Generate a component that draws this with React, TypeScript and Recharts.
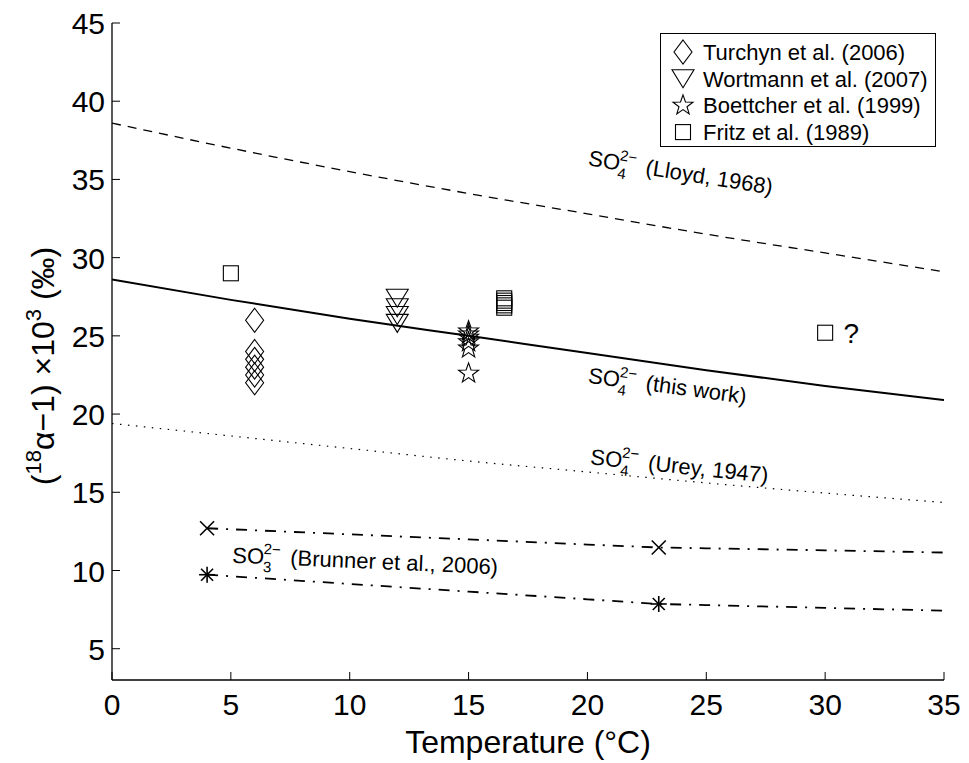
import {
  ComposedChart,
  Label,
  Legend,
  Line,
  ReferenceDot,
  Scatter,
  XAxis,
  YAxis,
} from 'recharts'

const FONT = '"Liberation Sans", Arial, Helvetica, sans-serif'

const X_TICKS = [0, 5, 10, 15, 20, 25, 30, 35]
const Y_TICKS = [5, 10, 15, 20, 25, 30, 35, 40, 45]

// fitted curves
const CURVE_T = [0, 5, 10, 15, 20, 25, 30, 35]
const LLOYD_1968 = [38.6, 37.0, 35.5, 34.1, 32.8, 31.5, 30.3, 29.1]
const THIS_WORK = [28.6, 27.3, 26.1, 25.0, 23.9, 22.8, 21.8, 20.9]
const UREY_1947 = [19.4, 18.6, 17.8, 17.0, 16.3, 15.6, 14.95, 14.35]

// sulfite (Brunner et al., 2006)
const SULFITE_T = [4, 10, 15, 20, 23, 25, 30, 35]
const SULFITE_UPPER = [12.7, 12.31, 11.99, 11.66, 11.47, 11.42, 11.29, 11.15]
const SULFITE_LOWER = [9.73, 9.14, 8.65, 8.16, 7.86, 7.79, 7.61, 7.43]
const SULFITE_MARK_T = [4, 23]
const SULFITE_UPPER_MARKS = [12.7, 11.47]
const SULFITE_LOWER_MARKS = [9.73, 7.86]

// measurements
const TURCHYN_T = [6, 6, 6, 6, 6, 6]
const TURCHYN_V = [26.0, 24.0, 23.5, 23.0, 22.5, 22.0]
const WORTMANN_T = [12, 12, 12, 12]
const WORTMANN_V = [27.4, 26.8, 26.3, 25.8]
const BOETTCHER_T = [15, 15, 15, 15, 15, 15]
const BOETTCHER_V = [25.3, 25.1, 24.9, 24.6, 24.2, 22.6]
const FRITZ_T = [5, 16.5, 16.5, 16.5, 16.5, 16.5, 30]
const FRITZ_V = [29.0, 27.4, 27.25, 27.1, 26.95, 26.8, 25.2]

const LEGEND_NAMES = [
  'Turchyn et al. (2006)',
  'Wortmann et al. (2007)',
  'Boettcher et al. (1999)',
  'Fritz et al. (1989)',
]

const pts = (ts: number[], vs: number[]) => ts.map((t, i) => ({ t, v: vs[i] }))

const INK = '#000'
const TICK_FONT = 30
const TITLE_FONT = 32

function Diamond({ cx, cy }: any) {
  return (
    <polygon
      points={`${cx},${cy - 12} ${cx + 9},${cy} ${cx},${cy + 12} ${cx - 9},${cy}`}
      fill="none"
      stroke={INK}
      strokeWidth={1.1}
    />
  )
}

function TriangleDown({ cx, cy }: any) {
  return (
    <polygon
      points={`${cx - 11},${cy - 9} ${cx + 11},${cy - 9} ${cx},${cy + 9}`}
      fill="none"
      stroke={INK}
      strokeWidth={1.1}
    />
  )
}

function Star({ cx, cy }: any) {
  const p: string[] = []
  for (let k = 0; k < 10; k++) {
    const r = k % 2 === 0 ? 10.5 : 4.2
    const a = -Math.PI / 2 + (k * Math.PI) / 5
    p.push(`${cx + r * Math.cos(a)},${cy + r * Math.sin(a)}`)
  }
  return <polygon points={p.join(' ')} fill="none" stroke={INK} strokeWidth={1.1} />
}

function Square({ cx, cy }: any) {
  return (
    <rect x={cx - 7.5} y={cy - 7.5} width={15} height={15} fill="none" stroke={INK} strokeWidth={1.1} />
  )
}

function Cross({ cx, cy }: any) {
  return (
    <g stroke={INK} strokeWidth={1.6}>
      <line x1={cx - 7} y1={cy - 7} x2={cx + 7} y2={cy + 7} />
      <line x1={cx - 7} y1={cy + 7} x2={cx + 7} y2={cy - 7} />
    </g>
  )
}

function Asterisk({ cx, cy }: any) {
  return (
    <g stroke={INK} strokeWidth={1.6}>
      <line x1={cx - 8} y1={cy} x2={cx + 8} y2={cy} />
      <line x1={cx} y1={cy - 8} x2={cx} y2={cy + 8} />
      <line x1={cx - 6} y1={cy - 6} x2={cx + 6} y2={cy + 6} />
      <line x1={cx - 6} y1={cy + 6} x2={cx + 6} y2={cy - 6} />
    </g>
  )
}

const LEGEND_MARKS = [Diamond, TriangleDown, Star, Square]

function IonLabel({ cx, cy, angle, ion, note }: any) {
  return (
    <g transform={`translate(${cx},${cy}) rotate(${angle})`} fontFamily={FONT} fill={INK}>
      <text x={0} y={0} fontSize={22}>SO</text>
      <text x={31} y={8} fontSize={15}>{ion}</text>
      <text x={31} y={-10} fontSize={15}>2−</text>
      <text x={58} y={0} fontSize={22}>{note}</text>
    </g>
  )
}

function BottomTick({ x, y, payload }: any) {
  return (
    <g>
      <line x1={x} y1={y} x2={x} y2={y - 8} stroke={INK} />
      <text x={x} y={y + 35} textAnchor="middle" fontSize={TICK_FONT} fontFamily={FONT} fill={INK}>
        {payload.value}
      </text>
    </g>
  )
}

function LeftTick({ x, y, payload }: any) {
  return (
    <g>
      <line x1={x} y1={y} x2={x + 8} y2={y} stroke={INK} />
      <text x={x - 7} y={y + 11} textAnchor="end" fontSize={TICK_FONT} fontFamily={FONT} fill={INK}>
        {payload.value}
      </text>
    </g>
  )
}

function TopTick({ x, y }: any) {
  return <line x1={x} y1={y} x2={x} y2={y + 8} stroke={INK} />
}

function RightTick({ x, y }: any) {
  return <line x1={x} y1={y} x2={x - 8} y2={y} stroke={INK} />
}

function XTitle({ viewBox }: any) {
  return (
    <text
      x={viewBox.x + viewBox.width / 2}
      y={viewBox.y + 73}
      textAnchor="middle"
      fontSize={TITLE_FONT}
      fontFamily={FONT}
      fill={INK}
    >
      Temperature (°C)
    </text>
  )
}

function YTitle({ viewBox }: any) {
  const x = viewBox.x + 22
  const y = viewBox.y + 343
  return (
    <text
      transform={`rotate(-90 ${x} ${y})`}
      x={x}
      y={y}
      textAnchor="middle"
      fontSize={TITLE_FONT}
      fontFamily={FONT}
      fill={INK}
    >
      (<tspan fontSize={22} dy={-13}>18</tspan>
      <tspan dy={13}>α−1) ×10</tspan>
      <tspan fontSize={22} dy={-13}>3</tspan>
      <tspan dy={13}> (‰)</tspan>
    </text>
  )
}

function LegendBox() {
  return (
    <svg width={276} height={114} style={{ display: 'block' }}>
      <rect x={0.5} y={0.5} width={275} height={113} fill="#fff" stroke={INK} />
      {LEGEND_NAMES.map((name, i) => {
        const Mark = LEGEND_MARKS[i]
        const cy = 19 + i * 26.7
        return (
          <g key={name}>
            <Mark cx={23} cy={cy} />
            <text x={43} y={cy + 8} fontSize={22} fontFamily={FONT} fill={INK}>
              {name}
            </text>
          </g>
        )
      })}
    </svg>
  )
}

const CURVE_LABELS = [
  { t: 20.0, v: 35.9, angle: 9, ion: '4', note: '(Lloyd, 1968)' },
  { t: 20.0, v: 22.0, angle: 7.5, ion: '4', note: '(this work)' },
  { t: 20.1, v: 16.8, angle: 6, ion: '4', note: '(Urey, 1947)' },
  { t: 5.05, v: 10.5, angle: 2.5, ion: '3', note: '(Brunner et al., 2006)' },
]

export default function App() {
  return (
    <ComposedChart width={961} height={755} margin={{ top: 15, right: 25, bottom: 23, left: 24 }}>
      <XAxis
        dataKey="t"
        type="number"
        domain={[0, 35]}
        ticks={X_TICKS}
        interval={0}
        allowDataOverflow
        tickLine={false}
        tickSize={0}
        tickMargin={0}
        height={60}
        axisLine={{ stroke: INK, strokeWidth: 1.3 }}
        tick={(p: any) => <BottomTick {...p} />}
      >
        <Label content={(p: any) => <XTitle viewBox={p.viewBox} />} />
      </XAxis>
      <XAxis
        xAxisId="top"
        orientation="top"
        dataKey="t"
        type="number"
        domain={[0, 35]}
        ticks={X_TICKS}
        interval={0}
        allowDataOverflow
        tickLine={false}
        tickSize={0}
        tickMargin={0}
        height={0}
        axisLine={{ stroke: INK, strokeWidth: 1.3 }}
        tick={(p: any) => <TopTick {...p} />}
      />
      <YAxis
        dataKey="v"
        type="number"
        domain={[3, 45]}
        ticks={Y_TICKS}
        interval={0}
        allowDataOverflow
        tickLine={false}
        tickSize={0}
        tickMargin={0}
        width={80}
        axisLine={{ stroke: INK, strokeWidth: 1.3 }}
        tick={(p: any) => <LeftTick {...p} />}
      >
        <Label content={(p: any) => <YTitle viewBox={p.viewBox} />} />
      </YAxis>
      <YAxis
        yAxisId="right"
        orientation="right"
        dataKey="v"
        type="number"
        domain={[3, 45]}
        ticks={Y_TICKS}
        interval={0}
        allowDataOverflow
        tickLine={false}
        tickSize={0}
        tickMargin={0}
        width={0}
        axisLine={{ stroke: INK, strokeWidth: 1.3 }}
        tick={(p: any) => <RightTick {...p} />}
      />

      <Line data={pts(CURVE_T, LLOYD_1968)} dataKey="v" type="monotone" stroke={INK} strokeWidth={1.3}
        strokeDasharray="9 7" dot={false} isAnimationActive={false} />
      <Line data={pts(CURVE_T, THIS_WORK)} dataKey="v" type="monotone" stroke={INK} strokeWidth={2}
        dot={false} isAnimationActive={false} />
      <Line data={pts(CURVE_T, UREY_1947)} dataKey="v" type="monotone" stroke={INK} strokeWidth={1.2}
        strokeDasharray="1.5 6.5" dot={false} isAnimationActive={false} />
      <Line data={pts(SULFITE_T, SULFITE_UPPER)} dataKey="v" type="linear" stroke={INK} strokeWidth={1.8}
        strokeDasharray="11 8 2 8" dot={false} isAnimationActive={false} />
      <Line data={pts(SULFITE_T, SULFITE_LOWER)} dataKey="v" type="linear" stroke={INK} strokeWidth={1.8}
        strokeDasharray="11 8 2 8" dot={false} isAnimationActive={false} />

      <Scatter data={pts(SULFITE_MARK_T, SULFITE_UPPER_MARKS)} dataKey="v" shape={(p: any) => <Cross {...p} />}
        isAnimationActive={false} />
      <Scatter data={pts(SULFITE_MARK_T, SULFITE_LOWER_MARKS)} dataKey="v" shape={(p: any) => <Asterisk {...p} />}
        isAnimationActive={false} />
      <Scatter data={pts(TURCHYN_T, TURCHYN_V)} dataKey="v" shape={(p: any) => <Diamond {...p} />}
        isAnimationActive={false} />
      <Scatter data={pts(WORTMANN_T, WORTMANN_V)} dataKey="v" shape={(p: any) => <TriangleDown {...p} />}
        isAnimationActive={false} />
      <Scatter data={pts(BOETTCHER_T, BOETTCHER_V)} dataKey="v" shape={(p: any) => <Star {...p} />}
        isAnimationActive={false} />
      <Scatter data={pts(FRITZ_T, FRITZ_V)} dataKey="v" shape={(p: any) => <Square {...p} />}
        isAnimationActive={false} />

      {CURVE_LABELS.map((l) => (
        <ReferenceDot
          key={l.note}
          x={l.t}
          y={l.v}
          r={0}
          ifOverflow="visible"
          shape={(p: any) => <IonLabel cx={p.cx} cy={p.cy} angle={l.angle} ion={l.ion} note={l.note} />}
        />
      ))}
      <ReferenceDot
        x={31.1}
        y={25.2}
        r={0}
        ifOverflow="visible"
        shape={(p: any) => (
          <text x={p.cx} y={p.cy + 10} textAnchor="middle" fontSize={28} fontFamily={FONT} fill={INK}>
            ?
          </text>
        )}
      />

      <Legend
        layout="vertical"
        align="center"
        verticalAlign="middle"
        wrapperStyle={{ position: 'absolute', top: 25, left: 652, width: 276 }}
        content={() => <LegendBox />}
      />
    </ComposedChart>
  )
}
